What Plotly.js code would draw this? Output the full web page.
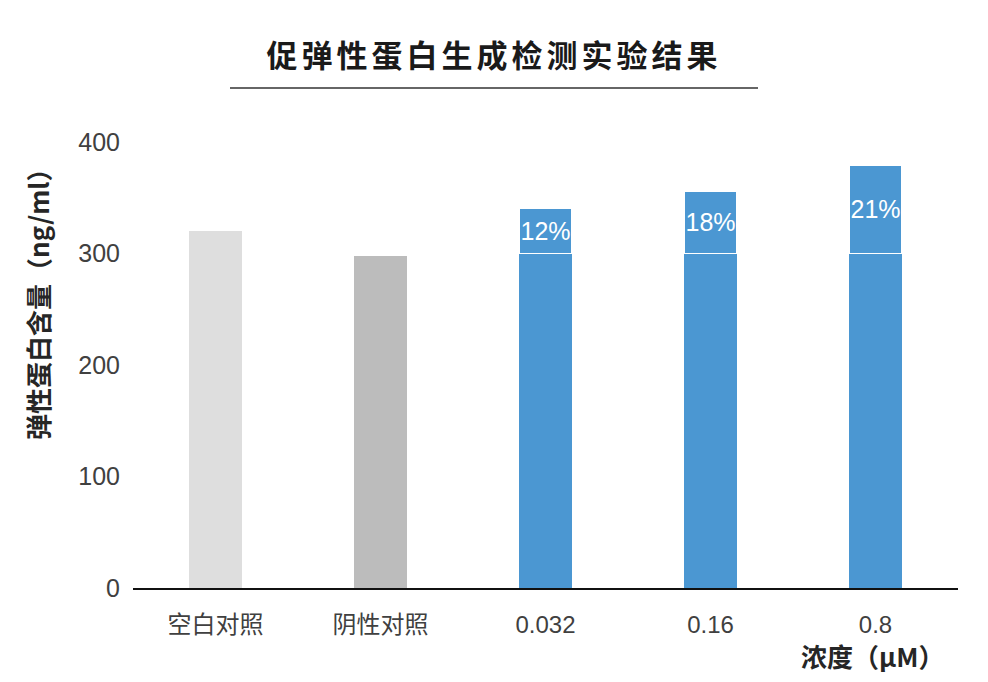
<!DOCTYPE html>
<html>
<head>
<meta charset="utf-8">
<script src="https://cdn.plot.ly/plotly-3.0.1.min.js"></script>
<style>
  html, body { margin: 0; padding: 0; background: #fff; }
  #chart { width: 988px; height: 682px; }
  .gtitle { letter-spacing: 4px; }
</style>
</head>
<body>
<div id="chart"></div>
<script>
// categories and values
var categories = ['空白对照', '阴性对照', '0.032', '0.16', '0.8'];
var elastin = [320, 298, 341, 356, 379];
var baseline = 300;
var gains = ['', '', '12%', '18%', '21%'];
var isSample = [false, false, true, true, true];

var barColors = ['#dedede', '#bcbcbc', '#4b97d2', '#4b97d2', '#4b97d2'];
var cjk = '"Liberation Sans", "Noto Sans CJK SC", Arial, sans-serif';
var heavy = '"Noto Sans CJK SC", sans-serif';

// lower part: full bar for controls, up to the baseline for samples
var lowerPart = elastin.map(function (v, i) { return isSample[i] ? baseline : v; });
// upper part: the gain above the baseline
var upperPart = elastin.map(function (v, i) { return isSample[i] ? v - baseline : null; });

var baseTrace = {
  x: categories,
  y: lowerPart,
  type: 'bar',
  marker: { color: barColors },
  hoverinfo: 'x+y'
};

var gainTrace = {
  x: categories,
  y: upperPart,
  type: 'bar',
  text: gains,
  textposition: 'inside',
  insidetextanchor: 'middle',
  textangle: 0,
  constraintext: 'none',
  textfont: { family: cjk, size: 25, color: '#ffffff' },
  marker: { color: '#4b97d2', line: { color: '#ffffff', width: 1.5 } },
  hoverinfo: 'x+text'
};

var layout = {
  width: 988,
  height: 682,
  margin: { l: 133, r: 30, t: 142, b: 94 },
  barmode: 'stack',
  bargap: 0.68,
  showlegend: false,
  paper_bgcolor: '#ffffff',
  plot_bgcolor: '#ffffff',
  font: { family: cjk, color: '#404040' },
  title: {
    text: '<b>促弹性蛋白生成检测实验结果</b>',
    font: { family: heavy, size: 31, color: '#1a1a1a' },
    xref: 'container', x: 0.5, xanchor: 'center',
    yref: 'container', y: 1 - 56 / 682, yanchor: 'middle'
  },
  xaxis: {
    type: 'category',
    showline: true,
    linecolor: '#111111',
    linewidth: 2,
    ticks: '',
    ticklabelstandoff: 14,
    tickfont: { family: cjk, size: 24, color: '#404040' },
    showgrid: false,
    zeroline: false
  },
  yaxis: {
    range: [0, 400],
    tickvals: [0, 100, 200, 300, 400],
    showline: false,
    showgrid: false,
    zeroline: false,
    ticks: '',
    ticklabelstandoff: 12,
    tickfont: { family: cjk, size: 25, color: '#404040' }
  },
  shapes: [{
    type: 'line',
    xref: 'paper', yref: 'paper',
    x0: (230 - 133) / 825, x1: (758 - 133) / 825,
    y0: (588 - 88) / 446, y1: (588 - 88) / 446,
    line: { color: '#333333', width: 1.5 }
  }],
  annotations: [
    {
      text: '<b>弹性蛋白含量（ng/ml）</b>',
      xref: 'paper', yref: 'paper',
      x: (37 - 133) / 825, y: (588 - 298) / 446,
      xanchor: 'center', yanchor: 'middle',
      textangle: -90,
      showarrow: false,
      font: { family: heavy, size: 26, color: '#262626' }
    },
    {
      text: '<b>浓度（μM）</b>',
      xref: 'paper', yref: 'paper',
      x: (946 - 133) / 825, y: (588 - 655) / 446,
      xanchor: 'right', yanchor: 'middle',
      showarrow: false,
      font: { family: heavy, size: 26, color: '#262626' }
    }
  ]
};

Plotly.newPlot(document.getElementById('chart'), [baseTrace, gainTrace], layout, { displayModeBar: false });
</script>
</body>
</html>
